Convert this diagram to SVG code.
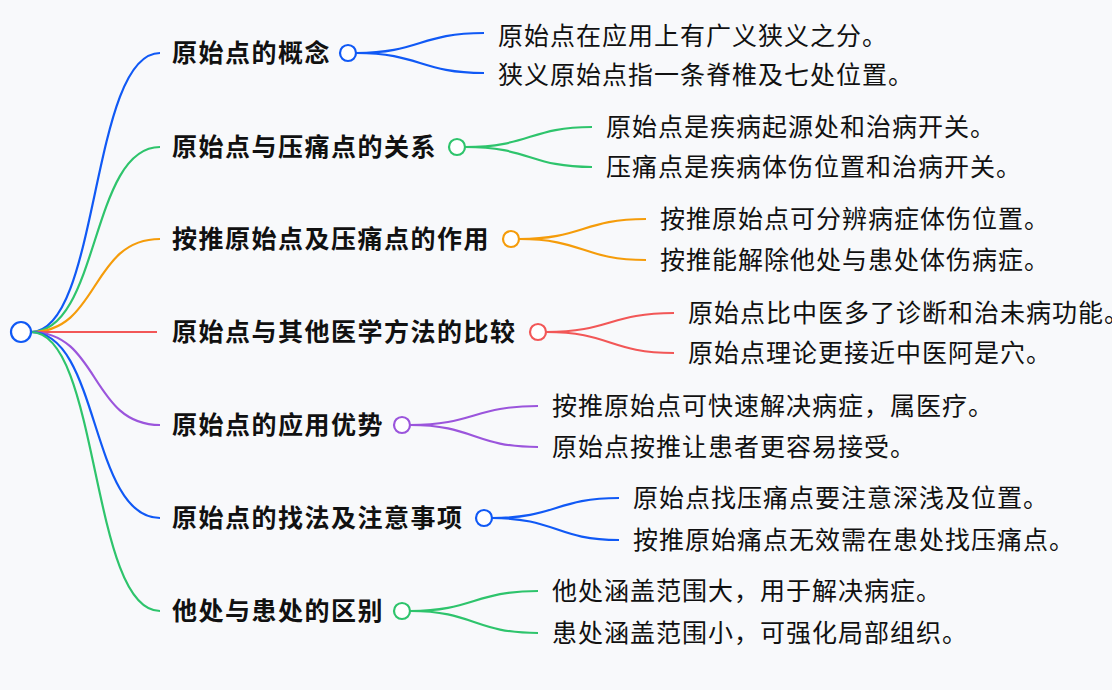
<svg xmlns="http://www.w3.org/2000/svg" width="1112" height="690" viewBox="0 0 1112 690">
<style>
.b{fill:#f8f9fb}
.l{fill:none;stroke-width:2.2}
.t1{font-family:"Noto Sans CJK SC","Noto Sans",sans-serif;font-size:25px;letter-spacing:1.5px;font-weight:bold;fill:#111}
.t2{font-family:"Noto Sans CJK SC","Noto Sans",sans-serif;font-size:25px;letter-spacing:1px;fill:#111}
.c{fill:#fff;stroke-width:2.2}
.bl{stroke:#1059f5}.gr{stroke:#2ec46c}.or{stroke:#f59c0a}.rd{stroke:#f25757}.pu{stroke:#9b55dc}
</style>
<rect width="1112" height="690" class="b"/>
<g id="connectors">
<path class="l bl" d="M31,332 C100,332 90,53 160,53"/>
<path class="l gr" d="M31,332 C100,332 90,147 160,147"/>
<path class="l or" d="M31,332 C100,332 90,239 160,239"/>
<path class="l rd" d="M31,332 L157,332"/>
<path class="l pu" d="M31,332 C100,332 90,425 160,425"/>
<path class="l bl" d="M31,332 C100,332 90,518 160,518"/>
<path class="l gr" d="M31,332 C100,332 90,611 160,611"/>
<path class="l bl" d="M356,53 C420,53 420,33 484,33"/><path class="l bl" d="M356,53 C420,53 420,73 484,73"/>
<path class="l gr" d="M465,147 C530,147 530,127 592,127"/><path class="l gr" d="M465,147 C530,147 530,167 592,167"/>
<path class="l or" d="M519,239 C583,239 583,219 646,219"/><path class="l or" d="M519,239 C583,239 583,260 646,260"/>
<path class="l rd" d="M546,332 C610,332 610,313 674,313"/><path class="l rd" d="M546,332 C610,332 610,353 674,353"/>
<path class="l pu" d="M410,425 C474,425 474,406 538,406"/><path class="l pu" d="M410,425 C474,425 474,447 538,447"/>
<path class="l bl" d="M492,518 C556,518 556,498 619,498"/><path class="l bl" d="M492,518 C556,518 556,540 619,540"/>
<path class="l gr" d="M410,611 C474,611 474,591 538,591"/><path class="l gr" d="M410,611 C474,611 474,633 538,633"/>
</g>
<g id="root"><circle cx="21" cy="332" r="10" class="c bl"/></g>
<g id="n1"><text class="t1" x="172" y="62">原始点的概念</text><circle cx="348" cy="53" r="8" class="c bl"/></g>
<g id="n1a"><text class="t2" x="498" y="45">原始点在应用上有广义狭义之分。</text></g>
<g id="n1b"><text class="t2" x="498" y="84">狭义原始点指一条脊椎及七处位置。</text></g>
<g id="n2"><text class="t1" x="172" y="156">原始点与压痛点的关系</text><circle cx="457" cy="147" r="8" class="c gr"/></g>
<g id="n2a"><text class="t2" x="606" y="136">原始点是疾病起源处和治病开关。</text></g>
<g id="n2b"><text class="t2" x="606" y="176">压痛点是疾病体伤位置和治病开关。</text></g>
<g id="n3"><text class="t1" x="172" y="248">按推原始点及压痛点的作用</text><circle cx="511" cy="239" r="8" class="c or"/></g>
<g id="n3a"><text class="t2" x="660" y="228">按推原始点可分辨病症体伤位置。</text></g>
<g id="n3b"><text class="t2" x="660" y="269">按推能解除他处与患处体伤病症。</text></g>
<g id="n4"><text class="t1" x="172" y="341">原始点与其他医学方法的比较</text><circle cx="538" cy="332" r="8" class="c rd"/></g>
<g id="n4a"><text class="t2" x="688" y="322">原始点比中医多了诊断和治未病功能。</text></g>
<g id="n4b"><text class="t2" x="688" y="362">原始点理论更接近中医阿是穴。</text></g>
<g id="n5"><text class="t1" x="172" y="434">原始点的应用优势</text><circle cx="402" cy="425" r="8" class="c pu"/></g>
<g id="n5a"><text class="t2" x="552" y="415">按推原始点可快速解决病症，属医疗。</text></g>
<g id="n5b"><text class="t2" x="552" y="456">原始点按推让患者更容易接受。</text></g>
<g id="n6"><text class="t1" x="172" y="527">原始点的找法及注意事项</text><circle cx="484" cy="518" r="8" class="c bl"/></g>
<g id="n6a"><text class="t2" x="633" y="507">原始点找压痛点要注意深浅及位置。</text></g>
<g id="n6b"><text class="t2" x="633" y="549">按推原始痛点无效需在患处找压痛点。</text></g>
<g id="n7"><text class="t1" x="172" y="620">他处与患处的区别</text><circle cx="402" cy="611" r="8" class="c gr"/></g>
<g id="n7a"><text class="t2" x="552" y="600">他处涵盖范围大，用于解决病症。</text></g>
<g id="n7b"><text class="t2" x="552" y="642">患处涵盖范围小，可强化局部组织。</text></g>
</svg>
